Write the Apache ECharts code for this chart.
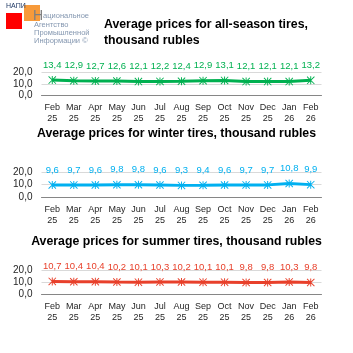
<!DOCTYPE html>
<html>
<head>
<meta charset="utf-8">
<script src="https://cdn.jsdelivr.net/npm/echarts@6/dist/echarts.min.js"></script>
<style>
  html, body { margin: 0; padding: 0; background: #fff; }
  #chart { width: 353px; height: 353px; }
</style>
</head>
<body>
<div id="chart"></div>
<script>
// months / years on the x axis
const months = ['Feb', 'Mar', 'Apr', 'May', 'Jun', 'Jul', 'Aug', 'Sep', 'Oct', 'Nov', 'Dec', 'Jan', 'Feb'];
const years = ['25', '25', '25', '25', '25', '25', '25', '25', '25', '25', '25', '26', '26'];

// average prices, thousand rubles
const allSeason = [13.4, 12.9, 12.7, 12.6, 12.1, 12.2, 12.4, 12.9, 13.1, 12.1, 12.1, 12.1, 13.2];
const winter = [9.6, 9.7, 9.6, 9.8, 9.8, 9.6, 9.3, 9.4, 9.6, 9.7, 9.7, 10.8, 9.9];
const summer = [10.7, 10.4, 10.4, 10.2, 10.1, 10.3, 10.2, 10.1, 10.1, 9.8, 9.8, 10.3, 9.8];

const yTicks = [0, 10, 20];

const categories = months.map((m, i) => m + '\n' + years[i]);
const comma = v => v.toFixed(1).replace('.', ',');

// asterisk marker (excel "star")
const star = 'path://M4.4 0 H5.6 V10 H4.4 Z M0.8 0 L10 9.2 L9.2 10 L0 0.8 Z M9.2 0 L10 0.8 L0.8 10 L0 9.2 Z';

const font = 'Liberation Sans';

const panels = [
  { data: allSeason, color: '#00B050', top: 72.5, height: 23 },
  { data: winter, color: '#00B0F0', top: 172, height: 25 },
  { data: summer, color: '#E8402B', top: 270, height: 24.5 }
];

const chart = echarts.init(document.getElementById('chart'));

const grid = [], xAxis = [], yAxis = [], series = [];
panels.forEach((p, i) => {
  grid.push({ left: 41.5, right: 31.5, top: p.top, height: p.height });
  xAxis.push({
    type: 'category',
    gridIndex: i,
    data: categories,
    axisLine: { lineStyle: { color: '#868686', width: 1 } },
    axisTick: { length: 4, lineStyle: { color: '#868686' } },
    axisLabel: { interval: 0, fontFamily: font, fontSize: 9, lineHeight: 11, color: '#262626', margin: 7 }
  });
  yAxis.push({
    type: 'value',
    gridIndex: i,
    min: yTicks[0],
    max: yTicks[yTicks.length - 1],
    interval: 10,
    axisLine: { show: false },
    axisTick: { show: false },
    splitLine: { lineStyle: { color: '#D9D9D9' } },
    axisLabel: {
      fontFamily: font, fontSize: 10, lineHeight: 10, color: '#262626', margin: 9,
      showMinLabel: true, showMaxLabel: true, hideOverlap: false, formatter: comma
    }
  });
  series.push({
    type: 'line',
    xAxisIndex: i,
    yAxisIndex: i,
    data: p.data,
    symbol: star,
    symbolSize: 8,
    lineStyle: { color: p.color, width: 3 },
    itemStyle: { color: p.color },
    label: {
      show: true,
      position: 'top',
      distance: 6,
      fontFamily: font,
      fontSize: 9.5,
      color: p.color,
      formatter: prm => comma(prm.value)
    },
    labelLayout: { hideOverlap: false },
    animation: false
  });
});

chart.setOption({
  animation: false,
  title: [
    {
      text: 'Average prices for all-season tires,\nthousand rubles',
      left: 99, top: 12,
      textStyle: { fontFamily: font, fontWeight: 'bold', fontSize: 12.3, lineHeight: 16, color: '#000' }
    },
    {
      text: 'Average prices for winter tires, thousand rubles',
      left: 'center', top: 123,
      textStyle: { fontFamily: font, fontWeight: 'bold', fontSize: 12.3, color: '#000' }
    },
    {
      text: 'Average prices for summer tires, thousand rubles',
      left: 'center', top: 231,
      textStyle: { fontFamily: font, fontWeight: 'bold', fontSize: 12.3, color: '#000' }
    }
  ],
  graphic: [
    { type: 'rect', shape: { x: 6, y: 13, width: 16, height: 16 }, style: { fill: '#FF0000' } },
    { type: 'rect', shape: { x: 24, y: 5, width: 16, height: 16 }, style: { fill: '#F79A3A' } },
    { type: 'text', x: 6, y: 3, style: { text: 'НАПИ', fontFamily: font, fontSize: 7, fill: '#1F3864' } },
    {
      type: 'text', x: 33, y: 9,
      style: {
        text: '{big|Н}ациональное',
        fontFamily: font, fontSize: 7.5, fill: '#8497B0',
        rich: { big: { fontSize: 14, fill: '#7F7F7F', fontFamily: font } }
      }
    },
    { type: 'text', x: 34, y: 21, style: { text: 'Агентство', fontFamily: font, fontSize: 7.5, fill: '#8497B0' } },
    { type: 'text', x: 34, y: 29, style: { text: 'Промышленной', fontFamily: font, fontSize: 7.5, fill: '#8497B0' } },
    { type: 'text', x: 34, y: 37, style: { text: 'Информации ©', fontFamily: font, fontSize: 7.5, fill: '#8497B0' } }
  ],
  grid: grid,
  xAxis: xAxis,
  yAxis: yAxis,
  series: series
});
</script>
</body>
</html>
